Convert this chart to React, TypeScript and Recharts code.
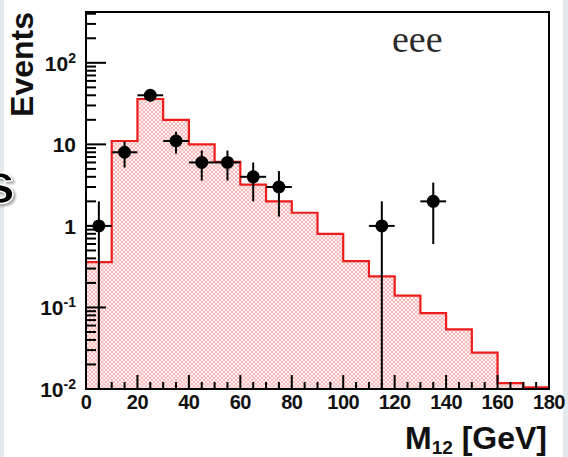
import React from 'react';
import { ComposedChart, Area, Scatter, ErrorBar, XAxis, YAxis, ReferenceArea } from 'recharts';

// histogram (MC expectation), one value per 10 GeV bin
const binEdges = [0, 10, 20, 30, 40, 50, 60, 70, 80, 90, 100, 110, 120, 130, 140, 150, 160, 170, 180];
const mcValues = [0.36, 11, 36, 20, 10, 6.1, 3.2, 2.0, 1.45, 0.8, 0.37, 0.24, 0.14, 0.085, 0.054, 0.028, 0.0118, 0.0105];

// observed events
const dataX = [5, 15, 25, 35, 45, 55, 65, 75, 115, 135];
const dataY = [1, 8, 40, 11, 6, 6, 4, 3, 1, 2];
const errLow = [0.99, 2.8, 6.3, 3.3, 2.4, 2.4, 2, 1.7, 0.99, 1.4];
const errHigh = [1, 2.8, 6.3, 3.3, 2.4, 2.4, 2, 1.7, 1, 1.4];
const errX = [5, 5, 5, 5, 5, 5, 5, 5, 5, 5];

const xMajorTicks = [0, 20, 40, 60, 80, 100, 120, 140, 160, 180];
const xMinorTicks = [5, 10, 15, 25, 30, 35, 45, 50, 55, 65, 70, 75, 85, 90, 95, 105, 110, 115, 125, 130, 135, 145, 150, 155, 165, 170, 175];
const yMajorTicks = [0.01, 0.1, 1, 10, 100];
const yMinorTicks = [
  0.02, 0.03, 0.04, 0.05, 0.06, 0.07, 0.08, 0.09,
  0.2, 0.3, 0.4, 0.5, 0.6, 0.7, 0.8, 0.9,
  2, 3, 4, 5, 6, 7, 8, 9,
  20, 30, 40, 50, 60, 70, 80, 90,
  200, 300, 400,
];
const yTickBase = ['10', '10', '1', '10', '10'];
const yTickExp = ['-2', '-1', '', '', '2'];

const histData = binEdges.map((x, i) => ({ x, h: mcValues[Math.min(i, mcValues.length - 1)] }));
const pointData = dataX.map((x, i) => ({ x, y: dataY[i], ey: [errLow[i], errHigh[i]], ex: errX[i] }));

const FONT = '"Liberation Sans", Arial, Helvetica, sans-serif';

const YTick = (props: any) => {
  const { x, y, payload } = props;
  const idx = yMajorTicks.indexOf(payload.value);
  const major = idx >= 0;
  return (
    <g>
      <line x1={x} x2={x + (major ? 20 : 10)} y1={y} y2={y} stroke="#000" strokeWidth={2} />
      {major && (
        <text x={x - 10} y={y + 8} textAnchor="end" fontFamily={FONT} fontWeight="bold" fontSize={21} fill="#111">
          {yTickBase[idx]}
          {yTickExp[idx] && (
            <tspan dy={-8} fontSize={14}>
              {yTickExp[idx]}
            </tspan>
          )}
        </text>
      )}
    </g>
  );
};

const XTick = (props: any) => {
  const { x, y, payload } = props;
  const major = xMajorTicks.includes(payload.value);
  return (
    <g>
      <line x1={x} x2={x} y1={y} y2={y - (major ? 14 : 7)} stroke="#000" strokeWidth={2} />
      {major && (
        <text x={x} y={y + 20} textAnchor="middle" fontFamily={FONT} fontWeight="bold" fontSize={20} letterSpacing={-0.5} fill="#111">
          {payload.value}
        </text>
      )}
    </g>
  );
};

const XTitle = (props: any) => {
  const { viewBox } = props;
  return (
    <text x={viewBox.x + viewBox.width - 2} y={viewBox.y + 60} textAnchor="end" fontFamily={FONT} fontWeight="bold" fontSize={32} fill="#111">
      M
      <tspan dy={5} fontSize={19}>12</tspan>
      <tspan dy={-5}> [GeV]</tspan>
    </text>
  );
};

const YTitle = (props: any) => {
  const { viewBox } = props;
  const tx = viewBox.x + 33;
  const ty = viewBox.y;
  return (
    <text x={tx} y={ty} transform={`rotate(-90, ${tx}, ${ty})`} textAnchor="end" fontFamily={FONT} fontWeight="bold" fontSize={32} fill="#111">
      Events
    </text>
  );
};

const Dot = (props: any) => <circle cx={props.cx} cy={props.cy} r={6.5} fill="#000" />;

export default function App() {
  return (
    <div style={{ position: 'absolute', left: 0, top: 0, width: 568, height: 457, background: '#fff', overflow: 'hidden' }}>
      <div style={{ position: 'absolute', left: 0, top: 0, width: 4, height: 457, background: '#e3eaee' }} />
      <div style={{ position: 'absolute', right: 0, top: 0, width: 5, height: 457, background: '#e3eaee' }} />
      <ComposedChart width={568} height={457} margin={{ top: 12, right: 19, bottom: 0, left: 0 }} style={{ position: 'absolute', left: 0, top: 0 }}>
        <defs>
          <pattern id="hatch" width={4} height={4} patternUnits="userSpaceOnUse">
            <rect width={4} height={4} fill="#fdf0f0" />
            <path d="M0,0 L4,4 M4,0 L0,4" stroke="#f3a2a2" strokeWidth={0.7} />
          </pattern>
        </defs>
        <Area
          data={histData}
          dataKey="h"
          type="stepAfter"
          baseValue={0.01}
          stroke="#ee1c1c"
          strokeWidth={2.2}
          fill="url(#hatch)"
          fillOpacity={1}
          isAnimationActive={false}
        />
        <Scatter data={pointData} dataKey="y" shape={<Dot />} isAnimationActive={false}>
          <ErrorBar dataKey="ey" direction="y" width={0} stroke="#000" strokeWidth={2} />
          <ErrorBar dataKey="ex" direction="x" width={0} stroke="#000" strokeWidth={2} />
        </Scatter>
        <ReferenceArea x1={0} x2={180} y1={0.01} y2={420} fill="none" stroke="#000" strokeWidth={2} />
        <XAxis
          dataKey="x"
          type="number"
          domain={[0, 180]}
          ticks={[...xMajorTicks, ...xMinorTicks]}
          interval={0}
          allowDataOverflow
          height={68}
          tickSize={0}
          tickMargin={0}
          axisLine={false}
          tickLine={false}
          tick={<XTick />}
          label={<XTitle />}
          {...({ zIndex: 700 } as any)}
        />
        <YAxis
          type="number"
          scale="log"
          domain={[0.01, 420]}
          ticks={[...yMajorTicks, ...yMinorTicks]}
          interval={0}
          allowDataOverflow
          width={86}
          tickSize={0}
          tickMargin={0}
          axisLine={false}
          tickLine={false}
          tick={<YTick />}
          label={<YTitle />}
          {...({ zIndex: 700 } as any)}
        />
      </ComposedChart>
      <svg width={568} height={457} style={{ position: 'absolute', left: 0, top: 0, pointerEvents: 'none' }}>
        <text x={392} y={52} fontFamily='"Liberation Serif", "Times New Roman", serif' fontSize={38} fill="#2a2a2a">
          eee
        </text>
        <text x={-17} y={203} fontFamily={FONT} fontWeight="bold" fontSize={58} fill="#000" stroke="#fff" strokeWidth={1.5} style={{ filter: 'drop-shadow(2px 2px 1px rgba(0,0,0,0.35))' }}>
          s
        </text>
      </svg>
    </div>
  );
}
